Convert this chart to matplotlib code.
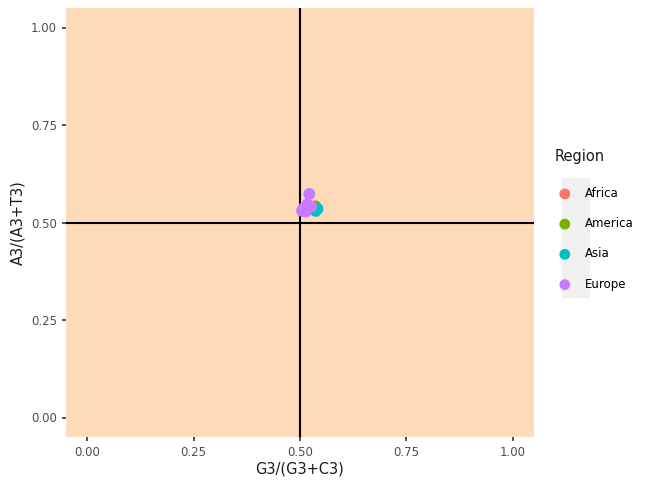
import matplotlib.pyplot as plt
from matplotlib.patches import Rectangle

regions = ["Africa", "America", "Asia", "Europe"]
colors = ["#F8766D", "#7CAE00", "#00BFC4", "#C77CFF"]

gc_africa = [0.530, 0.528]
at_africa = [0.535, 0.540]
gc_america = [0.536, 0.533]
at_america = [0.541, 0.536]
gc_asia = [0.541, 0.537]
at_asia = [0.535, 0.530]
gc_europe = [0.522, 0.508, 0.517, 0.526, 0.505, 0.513]
at_europe = [0.573, 0.536, 0.546, 0.541, 0.530, 0.528]

series = {
    "Africa": (gc_africa, at_africa),
    "America": (gc_america, at_america),
    "Asia": (gc_asia, at_asia),
    "Europe": (gc_europe, at_europe),
}

ticks = [0.0, 0.25, 0.5, 0.75, 1.0]
tick_labels = ["0.00", "0.25", "0.50", "0.75", "1.00"]

fig = plt.figure(figsize=(6.5, 4.84), dpi=100)
ax = fig.add_axes([66 / 650, 1 - 437 / 484, 468 / 650, 429 / 484])
ax.set_facecolor("#FDDAB8")
for spine in ax.spines.values():
    spine.set_visible(False)

ax.axvline(0.5, color="black", lw=1.5, zorder=2)
ax.axhline(0.5, color="black", lw=1.5, zorder=2)

handles = []
for region, color in zip(regions, colors):
    xs, ys = series[region]
    h = ax.scatter(xs, ys, s=75, color=color, edgecolors="none", zorder=3, label=region)
    handles.append(h)

ax.set_xlim(-0.05, 1.05)
ax.set_ylim(-0.05, 1.05)
ax.set_xticks(ticks)
ax.set_xticklabels(tick_labels)
ax.set_yticks(ticks)
ax.set_yticklabels(tick_labels)
ax.tick_params(axis="both", colors="#333333", labelcolor="#4D4D4D", labelsize=8.5,
               length=3, width=1.2, direction="out")
ax.set_xlabel("G3/(G3+C3)", fontsize=10.5, color="#1A1A1A", labelpad=2)
ax.set_ylabel("A3/(A3+T3)", fontsize=10.5, color="#1A1A1A", labelpad=4)

# grey key backgrounds like ggplot
fig.patches.append(Rectangle((562 / 650, 1 - 298 / 484), 28 / 650, 120 / 484,
                             transform=fig.transFigure, facecolor="#F0F0F0",
                             edgecolor="none", zorder=0))

fig.text(555 / 650, 1 - 157 / 484, "Region", fontsize=10.5, color="#1A1A1A",
         ha="left", va="center")
leg = fig.legend(handles=handles, labels=regions, loc="upper left",
                 bbox_to_anchor=(553 / 650, 1 - 187 / 484), frameon=False,
                 fontsize=8.5, labelspacing=1.46, handletextpad=0.7,
                 borderaxespad=0, borderpad=0, markerscale=0.9)

fig.savefig("out.png", dpi=100)
